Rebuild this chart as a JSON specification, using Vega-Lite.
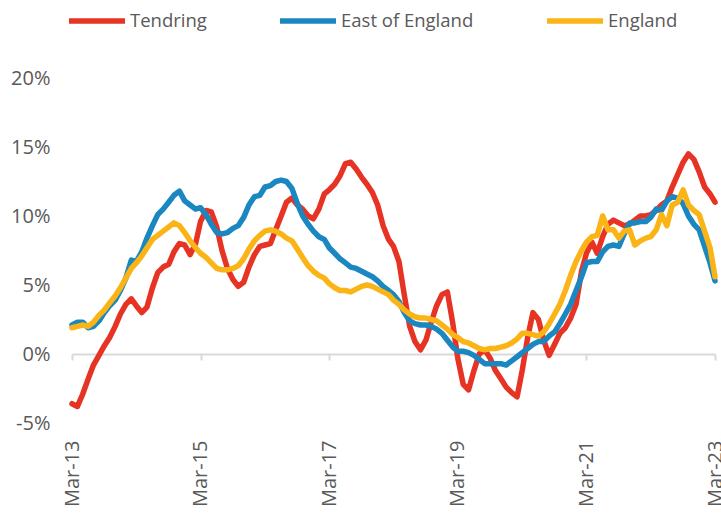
{
  "$schema": "https://vega.github.io/schema/vega-lite/v6.json",
  "autosize": "none",
  "width": 643,
  "height": 345,
  "padding": {"left": 72, "top": 78, "right": 6, "bottom": 90},
  "background": "white",
  "config": {"view": {"stroke": null}, "font": "Open Sans"},
  "data": {
    "format": {"parse": {"d": "utc:'%Y-%m'"}},
    "values": [
      {"d":"2013-03","Tendring":-3.6,"East of England":2.1,"England":1.9},
      {"d":"2013-04","Tendring":-3.8,"East of England":2.3,"England":2.0},
      {"d":"2013-05","Tendring":-2.9,"East of England":2.3,"England":2.1},
      {"d":"2013-06","Tendring":-1.8,"East of England":1.9,"England":2.0},
      {"d":"2013-07","Tendring":-0.8,"East of England":2.0,"England":2.3},
      {"d":"2013-08","Tendring":-0.1,"East of England":2.4,"England":2.8},
      {"d":"2013-09","Tendring":0.6,"East of England":3.0,"England":3.2},
      {"d":"2013-10","Tendring":1.2,"East of England":3.5,"England":3.7},
      {"d":"2013-11","Tendring":2.0,"East of England":3.9,"England":4.2},
      {"d":"2013-12","Tendring":2.9,"East of England":4.6,"England":4.8},
      {"d":"2014-01","Tendring":3.6,"East of England":5.5,"England":5.5},
      {"d":"2014-02","Tendring":4.0,"East of England":6.8,"England":6.2},
      {"d":"2014-03","Tendring":3.5,"East of England":6.7,"England":6.6},
      {"d":"2014-04","Tendring":3.0,"East of England":7.4,"England":7.1},
      {"d":"2014-05","Tendring":3.4,"East of England":8.4,"England":7.7},
      {"d":"2014-06","Tendring":4.8,"East of England":9.3,"England":8.3},
      {"d":"2014-07","Tendring":5.9,"East of England":10.1,"England":8.6},
      {"d":"2014-08","Tendring":6.3,"East of England":10.5,"England":8.9},
      {"d":"2014-09","Tendring":6.5,"East of England":11.0,"England":9.2},
      {"d":"2014-10","Tendring":7.4,"East of England":11.5,"England":9.5},
      {"d":"2014-11","Tendring":8.0,"East of England":11.8,"England":9.3},
      {"d":"2014-12","Tendring":7.9,"East of England":11.1,"England":8.8},
      {"d":"2015-01","Tendring":7.2,"East of England":10.8,"England":8.2},
      {"d":"2015-02","Tendring":8.0,"East of England":10.5,"England":7.7},
      {"d":"2015-03","Tendring":9.6,"East of England":10.6,"England":7.3},
      {"d":"2015-04","Tendring":10.4,"East of England":10.1,"England":7.0},
      {"d":"2015-05","Tendring":10.3,"East of England":9.4,"England":6.6},
      {"d":"2015-06","Tendring":9.2,"East of England":8.8,"England":6.2},
      {"d":"2015-07","Tendring":7.5,"East of England":8.7,"England":6.1},
      {"d":"2015-08","Tendring":6.2,"East of England":8.8,"England":6.1},
      {"d":"2015-09","Tendring":5.4,"East of England":9.1,"England":6.2},
      {"d":"2015-10","Tendring":4.9,"East of England":9.3,"England":6.4},
      {"d":"2015-11","Tendring":5.2,"East of England":9.9,"England":6.9},
      {"d":"2015-12","Tendring":6.3,"East of England":10.8,"England":7.6},
      {"d":"2016-01","Tendring":7.2,"East of England":11.4,"England":8.2},
      {"d":"2016-02","Tendring":7.8,"East of England":11.5,"England":8.6},
      {"d":"2016-03","Tendring":7.9,"East of England":12.1,"England":8.9},
      {"d":"2016-04","Tendring":8.0,"East of England":12.2,"England":9.0},
      {"d":"2016-05","Tendring":9.0,"East of England":12.5,"England":8.9},
      {"d":"2016-06","Tendring":10.0,"East of England":12.6,"England":8.7},
      {"d":"2016-07","Tendring":11.0,"East of England":12.5,"England":8.4},
      {"d":"2016-08","Tendring":11.3,"East of England":12.0,"England":8.2},
      {"d":"2016-09","Tendring":10.8,"East of England":10.9,"England":7.6},
      {"d":"2016-10","Tendring":10.5,"East of England":10.0,"England":7.0},
      {"d":"2016-11","Tendring":10.0,"East of England":9.4,"England":6.4},
      {"d":"2016-12","Tendring":9.8,"East of England":8.9,"England":6.0},
      {"d":"2017-01","Tendring":10.5,"East of England":8.5,"England":5.7},
      {"d":"2017-02","Tendring":11.6,"East of England":8.3,"England":5.5},
      {"d":"2017-03","Tendring":11.9,"East of England":7.7,"England":5.1},
      {"d":"2017-04","Tendring":12.3,"East of England":7.3,"England":4.8},
      {"d":"2017-05","Tendring":12.9,"East of England":6.9,"England":4.6},
      {"d":"2017-06","Tendring":13.8,"East of England":6.6,"England":4.6},
      {"d":"2017-07","Tendring":13.9,"East of England":6.3,"England":4.5},
      {"d":"2017-08","Tendring":13.4,"East of England":6.2,"England":4.7},
      {"d":"2017-09","Tendring":12.8,"East of England":6.0,"England":4.9},
      {"d":"2017-10","Tendring":12.3,"East of England":5.8,"England":5.0},
      {"d":"2017-11","Tendring":11.7,"East of England":5.6,"England":4.9},
      {"d":"2017-12","Tendring":10.8,"East of England":5.3,"England":4.7},
      {"d":"2018-01","Tendring":9.3,"East of England":4.9,"England":4.5},
      {"d":"2018-02","Tendring":8.3,"East of England":4.6,"England":4.3},
      {"d":"2018-03","Tendring":7.8,"East of England":4.3,"England":3.9},
      {"d":"2018-04","Tendring":6.7,"East of England":3.8,"England":3.6},
      {"d":"2018-05","Tendring":4.3,"East of England":3.0,"England":3.2},
      {"d":"2018-06","Tendring":2.0,"East of England":2.4,"England":2.9},
      {"d":"2018-07","Tendring":0.9,"East of England":2.2,"England":2.7},
      {"d":"2018-08","Tendring":0.3,"East of England":2.1,"England":2.6},
      {"d":"2018-09","Tendring":1.0,"East of England":2.1,"England":2.6},
      {"d":"2018-10","Tendring":2.3,"East of England":2.0,"England":2.5},
      {"d":"2018-11","Tendring":3.5,"East of England":1.8,"England":2.4},
      {"d":"2018-12","Tendring":4.3,"East of England":1.5,"England":2.1},
      {"d":"2019-01","Tendring":4.5,"East of England":1.0,"England":1.8},
      {"d":"2019-02","Tendring":2.2,"East of England":0.5,"England":1.4},
      {"d":"2019-03","Tendring":-0.3,"East of England":0.2,"England":1.2},
      {"d":"2019-04","Tendring":-2.2,"East of England":0.2,"England":0.9},
      {"d":"2019-05","Tendring":-2.6,"East of England":0.1,"England":0.8},
      {"d":"2019-06","Tendring":-1.2,"East of England":-0.1,"England":0.6},
      {"d":"2019-07","Tendring":0.0,"East of England":-0.4,"England":0.4},
      {"d":"2019-08","Tendring":0.3,"East of England":-0.7,"England":0.3},
      {"d":"2019-09","Tendring":-0.3,"East of England":-0.7,"England":0.4},
      {"d":"2019-10","Tendring":-1.2,"East of England":-0.7,"England":0.4},
      {"d":"2019-11","Tendring":-1.8,"East of England":-0.7,"England":0.5},
      {"d":"2019-12","Tendring":-2.4,"East of England":-0.8,"England":0.6},
      {"d":"2020-01","Tendring":-2.8,"East of England":-0.5,"England":0.8},
      {"d":"2020-02","Tendring":-3.1,"East of England":-0.2,"England":1.1},
      {"d":"2020-03","Tendring":-1.2,"East of England":0.1,"England":1.5},
      {"d":"2020-04","Tendring":1.2,"East of England":0.4,"England":1.5},
      {"d":"2020-05","Tendring":3.0,"East of England":0.7,"England":1.4},
      {"d":"2020-06","Tendring":2.5,"East of England":0.9,"England":1.3},
      {"d":"2020-07","Tendring":1.0,"East of England":0.9,"England":1.6},
      {"d":"2020-08","Tendring":-0.1,"East of England":1.3,"England":2.2},
      {"d":"2020-09","Tendring":0.7,"East of England":1.6,"England":2.9},
      {"d":"2020-10","Tendring":1.5,"East of England":2.2,"England":3.6},
      {"d":"2020-11","Tendring":1.9,"East of England":2.9,"England":4.6},
      {"d":"2020-12","Tendring":2.6,"East of England":3.6,"England":5.7},
      {"d":"2021-01","Tendring":3.6,"East of England":4.6,"England":6.7},
      {"d":"2021-02","Tendring":6.0,"East of England":5.6,"England":7.5},
      {"d":"2021-03","Tendring":7.3,"East of England":6.6,"England":8.1},
      {"d":"2021-04","Tendring":8.1,"East of England":6.7,"England":8.5},
      {"d":"2021-05","Tendring":7.3,"East of England":6.7,"England":8.6},
      {"d":"2021-06","Tendring":8.5,"East of England":7.4,"England":10.0},
      {"d":"2021-07","Tendring":9.4,"East of England":7.8,"England":9.0},
      {"d":"2021-08","Tendring":9.7,"East of England":7.9,"England":9.0},
      {"d":"2021-09","Tendring":9.5,"East of England":7.8,"England":8.4},
      {"d":"2021-10","Tendring":9.3,"East of England":8.7,"England":8.9},
      {"d":"2021-11","Tendring":9.4,"East of England":9.5,"England":9.0},
      {"d":"2021-12","Tendring":9.7,"East of England":9.5,"England":7.9},
      {"d":"2022-01","Tendring":10.0,"East of England":9.6,"England":8.2},
      {"d":"2022-02","Tendring":10.0,"East of England":9.6,"England":8.4},
      {"d":"2022-03","Tendring":10.1,"East of England":9.9,"England":8.5},
      {"d":"2022-04","Tendring":10.4,"East of England":10.5,"England":9.0},
      {"d":"2022-05","Tendring":10.8,"East of England":10.4,"England":10.1},
      {"d":"2022-06","Tendring":11.1,"East of England":11.1,"England":9.3},
      {"d":"2022-07","Tendring":12.1,"East of England":11.4,"England":10.8},
      {"d":"2022-08","Tendring":13.0,"East of England":11.3,"England":11.0},
      {"d":"2022-09","Tendring":13.9,"East of England":10.9,"England":11.9},
      {"d":"2022-10","Tendring":14.5,"East of England":10.0,"England":10.8},
      {"d":"2022-11","Tendring":14.1,"East of England":9.4,"England":10.4},
      {"d":"2022-12","Tendring":13.2,"East of England":9.0,"England":10.1},
      {"d":"2023-01","Tendring":12.1,"East of England":7.8,"England":8.9},
      {"d":"2023-02","Tendring":11.6,"East of England":6.6,"England":7.7},
      {"d":"2023-03","Tendring":11.0,"East of England":5.3,"England":5.6}
    ]
  },
  "transform": [
    {"fold": ["Tendring", "East of England", "England"], "as": ["series", "value"]}
  ],
  "encoding": {
    "x": {
      "field": "d",
      "type": "temporal",
      "title": null,
      "scale": {
        "type": "utc",
        "nice": false,
        "domain": [
          {"year": 2013, "month": "Mar", "date": 1, "utc": true},
          {"year": 2023, "month": "Mar", "date": 1, "utc": true}
        ]
      },
      "axis": {
        "values": [
          {"year": 2013, "month": "Mar", "date": 1, "utc": true},
          {"year": 2015, "month": "Mar", "date": 1, "utc": true},
          {"year": 2017, "month": "Mar", "date": 1, "utc": true},
          {"year": 2019, "month": "Mar", "date": 1, "utc": true},
          {"year": 2021, "month": "Mar", "date": 1, "utc": true},
          {"year": 2023, "month": "Mar", "date": 1, "utc": true}
        ],
        "labelExpr": "utcFormat(datum.value, '%b-%y')",
        "orient": "bottom",
        "offset": -69,
        "grid": false,
        "domainColor": "#d9d9d9",
        "domainWidth": 2,
        "tickColor": "#d9d9d9",
        "tickWidth": 2,
        "tickSize": 6,
        "labelAngle": -90,
        "labelAlign": "right",
        "labelBaseline": "middle",
        "labelPadding": 80,
        "labelFont": "Open Sans",
        "labelFontSize": 20,
        "labelColor": "#595959",
        "labelOverlap": false,
        "labelFlush": false
      }
    },
    "y": {
      "field": "value",
      "type": "quantitative",
      "title": null,
      "scale": {"domain": [-5, 20], "nice": false, "zero": false},
      "axis": {
        "values": [-5, 0, 5, 10, 15, 20],
        "labelExpr": "datum.value + '%'",
        "grid": false,
        "domain": false,
        "ticks": false,
        "labelPadding": 22,
        "labelFont": "Open Sans",
        "labelFontSize": 20,
        "labelColor": "#595959"
      }
    },
    "color": {
      "field": "series",
      "type": "nominal",
      "scale": {
        "domain": ["Tendring", "East of England", "England"],
        "range": ["#E63323", "#1B87C0", "#FBB416"]
      },
      "legend": {
        "title": null,
        "orient": "none",
        "legendX": -6,
        "legendY": -88,
        "direction": "horizontal",
        "columns": 3,
        "columnPadding": 62,
        "symbolType": "stroke",
        "symbolSize": 3136,
        "symbolStrokeWidth": 5.5,
        "labelOffset": 2,
        "labelFont": "Open Sans",
        "labelFontSize": 18.5,
        "labelColor": "#595959"
      }
    }
  },
  "layer": [
    {
      "transform": [{"filter": "datum.series == 'Tendring'"}],
      "mark": {"type": "line", "strokeWidth": 5.5, "strokeCap": "round", "strokeJoin": "round"}
    },
    {
      "transform": [{"filter": "datum.series == 'East of England'"}],
      "mark": {"type": "line", "strokeWidth": 5.5, "strokeCap": "round", "strokeJoin": "round"}
    },
    {
      "transform": [{"filter": "datum.series == 'England'"}],
      "mark": {"type": "line", "strokeWidth": 5.5, "strokeCap": "round", "strokeJoin": "round"}
    }
  ]
}
